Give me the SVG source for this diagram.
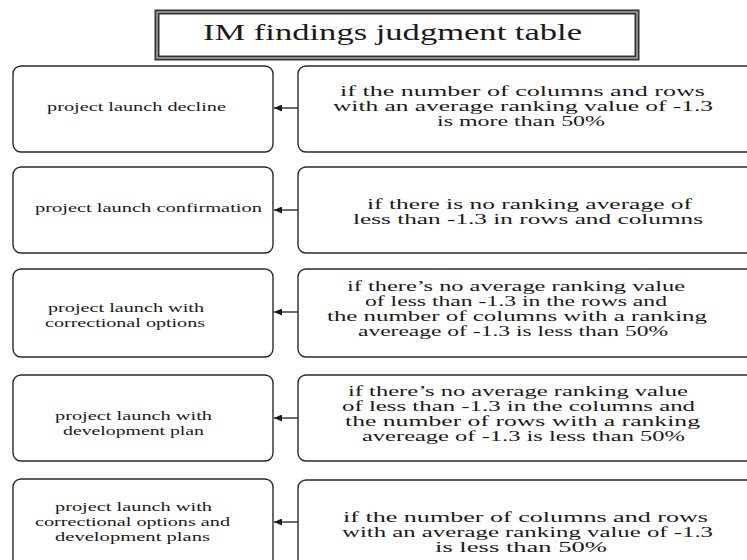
<svg xmlns="http://www.w3.org/2000/svg" width="747" height="560" viewBox="0 0 747 560">
<style>
.box{fill:#fff;stroke:#2a2a2a;stroke-width:1.4}
.lt{font-family:"Liberation Serif","DejaVu Serif",serif;font-size:13.5px;fill:#1a1a1a;text-anchor:middle}
.rt{font-family:"Liberation Serif","DejaVu Serif",serif;font-size:15px;fill:#1a1a1a;text-anchor:middle}
.tt{font-family:"Liberation Serif","DejaVu Serif",serif;font-size:24px;fill:#1a1a1a;text-anchor:middle}
.conn{stroke:#1a1a1a;stroke-width:1.3;fill:none}
</style>
<defs>
<marker id="ah" markerWidth="8" markerHeight="7" refX="8" refY="3.5" orient="auto" markerUnits="userSpaceOnUse">
<path d="M0,0 L8,3.5 L0,7 z" fill="#1a1a1a"/>
</marker>
</defs>
<rect width="747" height="560" fill="#fff"/>
<g id="title">
<rect x="157" y="12" width="480" height="46" fill="#fff" stroke="#333" stroke-width="5"/>
<rect x="157" y="12" width="480" height="46" fill="none" stroke="#a0a0a0" stroke-width="1.6"/>
<text class="tt" x="392.5" y="40" textLength="379" lengthAdjust="spacingAndGlyphs">IM findings judgment table</text>
</g>
<g id="result1">
<rect class="box" x="13" y="66" width="260" height="86" rx="8"/>
<text class="lt" x="136.5" y="111" textLength="179" lengthAdjust="spacingAndGlyphs">project launch decline</text>
</g>
<g id="condition1">
<rect class="box" x="298" y="66" width="470" height="86" rx="8"/>
<text class="rt" x="522.5" y="96" textLength="365" lengthAdjust="spacingAndGlyphs">if the number of columns and rows</text>
<text class="rt" x="523" y="111" textLength="380" lengthAdjust="spacingAndGlyphs">with an average ranking value of -1.3</text>
<text class="rt" x="521" y="126" textLength="168" lengthAdjust="spacingAndGlyphs">is more than 50%</text>
</g>
<g id="result2">
<rect class="box" x="13" y="167" width="260" height="86" rx="8"/>
<text class="lt" x="148.5" y="212" textLength="227" lengthAdjust="spacingAndGlyphs">project launch confirmation</text>
</g>
<g id="condition2">
<rect class="box" x="298" y="167" width="470" height="86" rx="8"/>
<text class="rt" x="529.5" y="209" textLength="325" lengthAdjust="spacingAndGlyphs">if there is no ranking average of</text>
<text class="rt" x="528" y="224" textLength="350" lengthAdjust="spacingAndGlyphs">less than -1.3 in rows and columns</text>
</g>
<g id="result3">
<rect class="box" x="13" y="269" width="260" height="88" rx="8"/>
<text class="lt" x="126" y="312" textLength="156" lengthAdjust="spacingAndGlyphs">project launch with</text>
<text class="lt" x="125" y="327" textLength="160" lengthAdjust="spacingAndGlyphs">correctional options</text>
</g>
<g id="condition3">
<rect class="box" x="298" y="269" width="470" height="88" rx="8"/>
<text class="rt" x="516" y="291" textLength="338" lengthAdjust="spacingAndGlyphs">if there’s no average ranking value</text>
<text class="rt" x="516" y="306" textLength="302" lengthAdjust="spacingAndGlyphs">of less than -1.3 in the rows and</text>
<text class="rt" x="517" y="321" textLength="380" lengthAdjust="spacingAndGlyphs">the number of columns with a ranking</text>
<text class="rt" x="513" y="336" textLength="310" lengthAdjust="spacingAndGlyphs">avereage of -1.3 is less than 50%</text>
</g>
<g id="result4">
<rect class="box" x="13" y="375" width="260" height="86" rx="8"/>
<text class="lt" x="133.5" y="420" textLength="157" lengthAdjust="spacingAndGlyphs">project launch with</text>
<text class="lt" x="133.5" y="435" textLength="141" lengthAdjust="spacingAndGlyphs">development plan</text>
</g>
<g id="condition4">
<rect class="box" x="298" y="375" width="470" height="86" rx="8"/>
<text class="rt" x="518" y="396" textLength="340" lengthAdjust="spacingAndGlyphs">if there’s no average ranking value</text>
<text class="rt" x="518.5" y="411" textLength="353" lengthAdjust="spacingAndGlyphs">of less than -1.3 in the columns and</text>
<text class="rt" x="522.5" y="426" textLength="355" lengthAdjust="spacingAndGlyphs">the number of rows with a ranking</text>
<text class="rt" x="523.5" y="441" textLength="323" lengthAdjust="spacingAndGlyphs">avereage of -1.3 is less than 50%</text>
</g>
<g id="result5">
<rect class="box" x="13" y="479" width="260" height="100" rx="8"/>
<text class="lt" x="133.5" y="511" textLength="157" lengthAdjust="spacingAndGlyphs">project launch with</text>
<text class="lt" x="132.5" y="526" textLength="195" lengthAdjust="spacingAndGlyphs">correctional options and</text>
<text class="lt" x="132.5" y="541" textLength="155" lengthAdjust="spacingAndGlyphs">development plans</text>
</g>
<g id="condition5">
<rect class="box" x="298" y="480" width="470" height="100" rx="8"/>
<text class="rt" x="525.5" y="522" textLength="365" lengthAdjust="spacingAndGlyphs">if the number of columns and rows</text>
<text class="rt" x="527.5" y="537" textLength="371" lengthAdjust="spacingAndGlyphs">with an average ranking value of -1.3</text>
<text class="rt" x="521" y="552" textLength="172" lengthAdjust="spacingAndGlyphs">is less than 50%</text>
</g>
<g id="connectors">
<line class="conn" x1="298" y1="108" x2="274" y2="108" marker-end="url(#ah)"/>
<line class="conn" x1="298" y1="210" x2="274" y2="210" marker-end="url(#ah)"/>
<line class="conn" x1="298" y1="312" x2="274" y2="312" marker-end="url(#ah)"/>
<line class="conn" x1="298" y1="418" x2="274" y2="418" marker-end="url(#ah)"/>
<line class="conn" x1="298" y1="522" x2="274" y2="522" marker-end="url(#ah)"/>
</g>
</svg>
